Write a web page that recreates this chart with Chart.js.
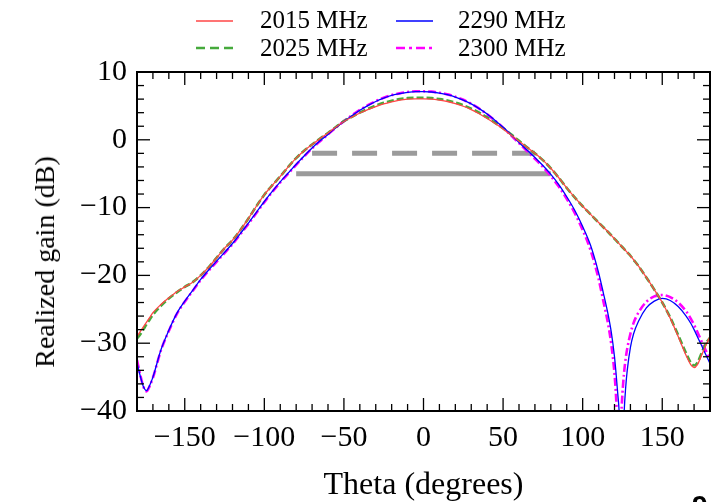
<!DOCTYPE html>
<html><head><meta charset="utf-8">
<script src="https://cdn.jsdelivr.net/npm/chart.js@4/dist/chart.umd.min.js"></script>
<style>
html,body{margin:0;padding:0;background:#fff;}
#wrap{position:relative;width:718px;height:502px;overflow:hidden;background:#fff;}
#c{position:absolute;left:0;top:0;}
.legtxt{position:absolute;font-family:'Liberation Serif',serif;font-size:25px;line-height:1;color:#000;white-space:nowrap;}
.legsvg{position:absolute;}
#ytitle{position:absolute;left:45px;top:262px;transform:translate(-50%,-50%) rotate(-90deg);font-family:'Liberation Serif',serif;font-size:28px;line-height:1;white-space:nowrap;color:#000;}
#pagenum{position:absolute;left:692px;top:492px;font-family:'Liberation Sans',sans-serif;font-weight:bold;font-size:28px;line-height:1;color:#000;}
</style></head><body>
<div id="wrap">
<canvas id="c" width="718" height="502"></canvas>
<div id="legend"></div>
<div id="ytitle">Realized gain (dB)</div>
<div id="pagenum">9</div>
</div>
<script>
// ---- data ----
const theta = [-180,-178,-176,-174,-172,-170,-165,-160,-155,-150,-145,-140,-135,-130,-125,-120,-115,-110,-105,-100,
  -95,-90,-85,-80,-75,-70,-65,-60,-55,-50,-45,-40,-35,-30,-25,-20,-15,-10,-5,0,
  5,10,15,20,25,30,35,40,45,50,55,60,65,70,75,80,85,90,95,100,
  105,110,113,116,118,120,121,122,123,124,125,126,127,128,130,132,135,140,145,150,
  155,160,165,168,170,172,175,178,180];

const gain2015 = [-29.0,-28.3,-27.6,-26.9,-26.2,-25.5,-24.3,-23.3,-22.4,-21.7,-21.0,-20.0,-18.8,-17.4,-16.0,-14.8,-13.3,-11.6,-9.8,-8.1,
  -6.7,-5.4,-4.0,-2.7,-1.6,-0.7,0.2,1.0,1.9,2.7,3.35,3.95,4.45,4.9,5.3,5.6,5.85,6.0,6.05,6.05,
  6.0,5.85,5.65,5.35,4.95,4.45,3.85,3.15,2.4,1.6,0.7,-0.2,-1.1,-2.0,-3.0,-4.2,-5.6,-7.1,-8.5,-9.8,
  -11.0,-12.2,-12.9,-13.6,-14.1,-14.6,-14.85,-15.1,-15.35,-15.6,-15.85,-16.1,-16.35,-16.6,-17.1,-17.7,-18.6,-20.3,-22.1,-24.0,
  -26.3,-29.0,-31.8,-33.2,-33.6,-33.2,-31.6,-30.0,-29.0];

const gain2025 = [-29.3,-28.7,-28.0,-27.2,-26.5,-25.8,-24.5,-23.4,-22.5,-21.7,-21.0,-20.0,-18.8,-17.4,-16.0,-14.8,-13.3,-11.6,-9.8,-8.1,
  -6.7,-5.4,-4.0,-2.7,-1.6,-0.7,0.2,1.0,1.9,2.75,3.4,4.0,4.55,5.05,5.45,5.75,6.0,6.15,6.2,6.2,
  6.15,6.0,5.8,5.5,5.1,4.6,4.0,3.3,2.5,1.7,0.8,-0.15,-1.1,-2.0,-3.0,-4.2,-5.6,-7.1,-8.5,-9.8,
  -11.0,-12.2,-12.9,-13.6,-14.1,-14.6,-14.85,-15.1,-15.35,-15.6,-15.85,-16.1,-16.35,-16.6,-17.1,-17.7,-18.6,-20.3,-22.1,-24.0,
  -26.2,-28.8,-31.5,-32.9,-33.3,-32.9,-31.3,-29.8,-29.2];

const gain2290 = [-32.9,-34.8,-36.4,-37.0,-36.2,-35.0,-31.0,-28.1,-25.6,-23.8,-22.2,-20.6,-19.2,-17.9,-16.6,-15.3,-13.8,-12.3,-10.7,-9.1,
  -7.6,-6.2,-4.9,-3.6,-2.4,-1.2,-0.15,0.8,1.8,2.7,3.55,4.35,5.05,5.65,6.15,6.55,6.8,7.0,7.1,7.1,
  7.05,6.9,6.65,6.3,5.85,5.3,4.6,3.8,2.85,1.85,0.75,-0.4,-1.5,-2.6,-3.8,-5.1,-6.6,-8.4,-10.4,-12.8,
  -15.6,-19.6,-22.6,-25.8,-28.4,-32.0,-34.5,-37.3,-40.5,-48,-48,-40.5,-36.6,-34.0,-30.6,-28.6,-26.8,-24.8,-23.8,-23.4,
  -23.7,-24.6,-26.0,-27.1,-28.0,-29.0,-30.5,-32.0,-33.0];

const gain2300 = [-32.5,-34.6,-36.4,-37.1,-36.3,-35.1,-31.1,-28.2,-25.7,-23.9,-22.3,-20.7,-19.3,-18.0,-16.7,-15.4,-13.9,-12.4,-10.8,-9.2,
  -7.7,-6.3,-5.0,-3.7,-2.45,-1.25,-0.2,0.8,1.8,2.75,3.6,4.4,5.1,5.7,6.2,6.6,6.85,7.05,7.15,7.15,
  7.1,6.95,6.7,6.35,5.9,5.3,4.6,3.75,2.8,1.8,0.65,-0.5,-1.65,-2.8,-4.0,-5.35,-6.9,-8.7,-10.8,-13.3,
  -16.3,-20.5,-23.8,-27.2,-30.2,-34.5,-38.0,-44,-50,-42,-37.4,-34.4,-32.3,-30.8,-28.6,-27.0,-25.5,-23.9,-23.1,-22.9,
  -23.2,-24.0,-25.3,-26.4,-27.3,-28.3,-29.9,-31.4,-32.5];

const seriesNames = ['2015 MHz','2025 MHz','2290 MHz','2300 MHz'];
const refDashedX = [-70, 70];
const refDashedY = -2;
const refSolidX = [-80, 80];
const refSolidY = -5;
const xTickValues = [-150,-100,-50,0,50,100,150];
const yTickValues = [-40,-30,-20,-10,0,10];
const xRange = [-180, 180];
const yRange = [-40, 10];

// ---- helpers ----
const pts = arr => theta.map((t, i) => ({x: t, y: arr[i]}));
const seg = (xs, yv) => xs.map(v => ({x: v, y: yv}));
const fmt = v => (v < 0 ? '\u2212' + Math.abs(v) : String(v));

const styles = [
  {color: 'rgb(255,70,70)', width: 1.3, dash: [], legDash: []},
  {color: 'rgb(70,170,60)', width: 2.6, dash: [7, 3], legDash: [9, 5]},
  {color: '#0000ff', width: 1.3, dash: [], legDash: []},
  {color: '#ff00ff', width: 2.6, dash: [8, 3, 2, 3], legDash: [9, 4, 3, 4]}
];

// ---- HTML legend ----
const legendPos = [
  {sx: 196, tx: 260, ly: 20.7, ty: 7.4},
  {sx: 196, tx: 260, ly: 48.3, ty: 35.1},
  {sx: 396, tx: 458, ly: 20.7, ty: 7.4},
  {sx: 396, tx: 458, ly: 48.3, ty: 35.1}
];
const legend = document.getElementById('legend');
seriesNames.forEach((name, i) => {
  const p = legendPos[i], s = styles[i];
  const svg = document.createElementNS('http://www.w3.org/2000/svg', 'svg');
  svg.setAttribute('class', 'legsvg');
  svg.setAttribute('width', '37'); svg.setAttribute('height', '8');
  svg.style.left = p.sx + 'px'; svg.style.top = (p.ly - 4) + 'px';
  const ln = document.createElementNS('http://www.w3.org/2000/svg', 'line');
  ln.setAttribute('x1', '0'); ln.setAttribute('x2', '37');
  ln.setAttribute('y1', '4'); ln.setAttribute('y2', '4');
  ln.setAttribute('stroke', s.color); ln.setAttribute('stroke-width', s.width);
  if (s.legDash.length) ln.setAttribute('stroke-dasharray', s.legDash.join(' '));
  svg.appendChild(ln);
  legend.appendChild(svg);
  const t = document.createElement('div');
  t.className = 'legtxt';
  t.textContent = name;
  t.style.left = p.tx + 'px'; t.style.top = p.ty + 'px';
  legend.appendChild(t);
});

// ---- frame + inward ticks plugin ----
const frameTicks = {
  id: 'frameTicks',
  afterDraw(chart) {
    const {ctx, chartArea: {left, right, top, bottom}, scales: {x, y}} = chart;
    ctx.save();
    ctx.strokeStyle = '#000';
    ctx.lineWidth = 1.3;
    const line = (x1, y1, x2, y2) => { ctx.beginPath(); ctx.moveTo(x1, y1); ctx.lineTo(x2, y2); ctx.stroke(); };
    for (let v = xRange[0] + 10; v < xRange[1]; v += 10) {
      const px = x.getPixelForValue(v);
      const len = xTickValues.includes(v) ? 13 : 7;
      line(px, bottom, px, bottom - len);
      line(px, top, px, top + len);
    }
    for (let v = yRange[0] + 2; v < yRange[1]; v += 2) {
      const py = y.getPixelForValue(v);
      const len = yTickValues.includes(v) ? 13 : 7;
      line(left, py, left + len, py);
      line(right, py, right - len, py);
    }
    ctx.lineWidth = 2;
    ctx.strokeRect(left, top, right - left, bottom - top);
    ctx.restore();
  }
};

const tickFont = {family: 'Liberation Serif', size: 30};

new Chart(document.getElementById('c'), {
  type: 'line',
  data: {
    datasets: [
      {label: seriesNames[0], data: pts(gain2015), borderColor: styles[0].color, borderWidth: styles[0].width, borderDash: styles[0].dash, order: 0},
      {label: seriesNames[2], data: pts(gain2290), borderColor: styles[2].color, borderWidth: styles[2].width, borderDash: styles[2].dash, order: 1},
      {label: seriesNames[1], data: pts(gain2025), borderColor: styles[1].color, borderWidth: styles[1].width, borderDash: styles[1].dash, order: 2},
      {label: seriesNames[3], data: pts(gain2300), borderColor: styles[3].color, borderWidth: styles[3].width, borderDash: styles[3].dash, order: 3},
      {label: 'ref -2 dB', data: seg(refDashedX, refDashedY), borderColor: '#9b9b9b', borderWidth: 5, borderDash: [25, 15], order: 4, cubicInterpolationMode: 'default', tension: 0},
      {label: 'ref -5 dB', data: seg(refSolidX, refSolidY), borderColor: '#9b9b9b', borderWidth: 5, order: 5, cubicInterpolationMode: 'default', tension: 0}
    ]
  },
  options: {
    responsive: false,
    animation: false,
    devicePixelRatio: 1,
    layout: {padding: {top: 72, right: 8, left: 0, bottom: 0}},
    elements: {point: {radius: 0}, line: {cubicInterpolationMode: 'monotone', fill: false}},
    plugins: {legend: {display: false}, tooltip: {enabled: false}},
    scales: {
      x: {
        type: 'linear', min: xRange[0], max: xRange[1],
        afterBuildTicks: s => { s.ticks = xTickValues.map(v => ({value: v})); },
        afterFit: s => { s.height = 91; },
        grid: {display: false, drawTicks: false},
        border: {display: false},
        ticks: {font: tickFont, color: '#000', padding: 9, maxRotation: 0, autoSkip: false, callback: v => fmt(v)},
        title: {display: true, text: 'Theta (degrees)', font: {family: 'Liberation Serif', size: 32}, color: '#000', padding: {top: 0, bottom: -3}}
      },
      y: {
        type: 'linear', min: yRange[0], max: yRange[1],
        afterBuildTicks: s => { s.ticks = yTickValues.map(v => ({value: v})); },
        afterFit: s => { s.width = 137; },
        grid: {display: false, drawTicks: false},
        border: {display: false},
        ticks: {font: tickFont, color: '#000', padding: 10, autoSkip: false, callback: v => fmt(v)},
        title: {display: false}
      }
    }
  },
  plugins: [frameTicks]
});
</script>
</body></html>
